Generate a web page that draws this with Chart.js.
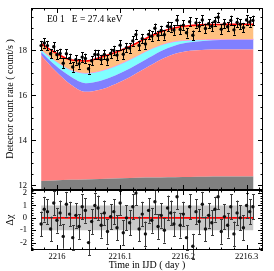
<!DOCTYPE html>
<html>
<head>
<meta charset="utf-8">
<script src="https://cdn.jsdelivr.net/npm/chart.js@4.4.1/dist/chart.umd.min.js"></script>
<style>
  body { margin: 0; background: #fff; overflow: hidden; }
  #wrap { position: relative; width: 274px; height: 271px; }
  canvas { position: absolute; left: 0; }
  #top { top: 0; }
  #res { top: 189px; }
</style>
</head>
<body>
<div id="wrap">
  <canvas id="top" width="274" height="191"></canvas>
  <canvas id="res" width="274" height="82"></canvas>
</div>
<script>
    // observed light curve (time in IJD, rate in count/s)
    const times = [2215.975, 2215.980, 2215.985, 2215.990, 2215.995, 2216.000, 2216.005, 2216.010, 2216.015, 2216.020,
        2216.025, 2216.030, 2216.035, 2216.040, 2216.045, 2216.050, 2216.055, 2216.060, 2216.065, 2216.070,
        2216.075, 2216.080, 2216.085, 2216.090, 2216.095, 2216.100, 2216.105, 2216.110, 2216.115, 2216.120,
        2216.125, 2216.130, 2216.135, 2216.140, 2216.145, 2216.150, 2216.155, 2216.160, 2216.165, 2216.170,
        2216.175, 2216.180, 2216.185, 2216.190, 2216.195, 2216.200, 2216.205, 2216.210, 2216.215, 2216.220,
        2216.225, 2216.230, 2216.235, 2216.240, 2216.245, 2216.250, 2216.255, 2216.260, 2216.265, 2216.270,
        2216.275, 2216.280, 2216.285, 2216.290, 2216.295, 2216.300, 2216.305, 2216.310];
    const rateObs = [18.21, 18.33, 18.21, 17.85, 18.16, 17.81, 17.86, 17.43, 17.85, 17.64,
        17.26, 17.58, 17.40, 17.70, 17.64, 17.18, 17.54, 17.82, 17.81, 17.59,
        17.82, 17.58, 17.86, 17.99, 17.79, 18.23, 17.83, 18.12, 18.10, 18.42,
        18.70, 18.22, 18.52, 18.28, 18.71, 18.63, 18.98, 18.66, 18.88, 18.69,
        19.07, 19.04, 18.90, 19.34, 18.93, 19.12, 18.78, 19.27, 18.67, 19.22,
        19.07, 19.35, 18.97, 19.18, 19.07, 19.28, 19.47, 18.94, 19.18, 19.05,
        19.33, 18.91, 19.24, 19.16, 19.01, 19.35, 19.26, 19.33];
    const rateErr = 0.21;
    const resid = [-0.5, 0.7, 0.5, -0.9, 1.2, -0.2, 0.4, -1.5, 1.1, 0.3,
        -1.6, 0.2, -0.7, 0.9, 0.6, -2.0, -0.3, 1.0, 0.8, -0.6,
        0.4, -1.1, 0.1, 0.5, -0.8, 1.2, -1.2, 0.0, -0.4, 0.9,
        2.0, -0.9, 0.3, -1.3, 0.6, -0.2, 1.3, -0.7, 0.2, -1.0,
        0.8, 0.4, -0.5, 1.7, -0.6, 0.3, -1.6, 0.9, -2.3, 0.5,
        -0.3, 1.1, -0.9, 0.2, -0.4, 0.7, 1.7, -1.1, 0.1, -0.6,
        0.9, -1.3, 0.4, 0.0, -0.8, 1.0, 0.5, 0.9];

    // model components, cumulative tops
    const modelTimes = [2215.975, 2215.997, 2216.021, 2216.046, 2216.068, 2216.092, 2216.116, 2216.140,
        2216.164, 2216.187, 2216.211, 2216.235, 2216.259, 2216.283, 2216.311];
    const bgTop = [12.20, 12.22, 12.25, 12.27, 12.29, 12.31, 12.33, 12.35, 12.36, 12.37, 12.38, 12.39, 12.40, 12.40, 12.40];
    const pinkTop = [17.78, 17.10, 16.50, 16.16, 16.25, 16.50, 16.82, 17.20, 17.58, 17.85, 17.98, 18.03, 18.04, 18.04, 18.04];
    const blueTop = [17.93, 17.35, 16.85, 16.54, 16.64, 16.88, 17.20, 17.58, 17.96, 18.22, 18.36, 18.43, 18.46, 18.47, 18.47];
    const cyanTop = [18.03, 17.55, 17.15, 16.99, 17.08, 17.30, 17.60, 17.95, 18.24, 18.40, 18.46, 18.48, 18.49, 18.49, 18.49];
    const totalModel = [18.30, 17.90, 17.58, 17.53, 17.68, 17.90, 18.18, 18.52, 18.82, 19.00, 19.10, 19.14, 19.15, 19.16, 19.16];

    const bandLow = [-1, -1];
    const bandHigh = [1, 1];
    const zeroLine = [0, 0];
    const bandTimes = [2215.975, 2216.311];

    const xTicks = [2216, 2216.1, 2216.2, 2216.3];
    const rateTicks = [12, 14, 16, 18];
    const residTicks = [-2, -1, 0, 1, 2];

    const xMin = 2215.959, xMax = 2216.326;
    const fontFam = "'Liberation Serif', serif";

    function pts(xs, ys) {
        return xs.map((x, i) => ({ x: x, y: ys[i] }));
    }

    function area(data, color, fill, border, bw) {
        return {
            type: 'line', data: data, fill: fill, backgroundColor: color,
            borderColor: border || 'rgba(0,0,0,0)', borderWidth: bw || 0,
            pointRadius: 0, cubicInterpolationMode: 'monotone', order: 5
        };
    }

    // frame + inward ticks, PGPLOT style
    const frameTicks = {
        id: 'frameTicks',
        afterDraw(chart, args, o) {
            const { ctx, chartArea: a, scales } = chart;
            const sx = scales.x, sy = scales.y;
            ctx.save();
            ctx.strokeStyle = '#000';
            ctx.lineWidth = 1;
            ctx.beginPath();
            const k0 = Math.ceil(sx.min / o.xMinor - 1e-6), k1 = Math.floor(sx.max / o.xMinor + 1e-6);
            for (let k = k0; k <= k1; k++) {
                const px = Math.round(sx.getPixelForValue(k * o.xMinor)) + 0.5;
                const len = (k % o.xEvery === 0) ? 5 : 2.5;
                ctx.moveTo(px, a.bottom); ctx.lineTo(px, a.bottom - len);
                ctx.moveTo(px, a.top); ctx.lineTo(px, a.top + len);
            }
            const j0 = Math.ceil(sy.min / o.yMinor - 1e-6), j1 = Math.floor(sy.max / o.yMinor + 1e-6);
            for (let j = j0; j <= j1; j++) {
                const py = Math.round(sy.getPixelForValue(j * o.yMinor)) + 0.5;
                const len = (j % o.yEvery === 0) ? 5 : 2.5;
                ctx.moveTo(a.left, py); ctx.lineTo(a.left + len, py);
                ctx.moveTo(a.right, py); ctx.lineTo(a.right - len, py);
            }
            ctx.stroke();
            ctx.strokeRect(Math.round(a.left) + 0.5, Math.round(a.top) + 0.5,
                Math.round(a.width) - 1, Math.round(a.height) - 1);
            if (o.label) {
                ctx.fillStyle = '#000';
                ctx.font = "9.5px " + fontFam;
                ctx.textBaseline = 'middle';
                ctx.fillText(o.label, a.left + 16, 19);
            }
            ctx.restore();
        }
    };

    // vertical error bars with small caps
    const errorBars = {
        id: 'errorBars',
        afterDatasetsDraw(chart, args, o) {
            const { ctx, scales } = chart;
            const meta = chart.getDatasetMeta(o.index);
            const ds = chart.data.datasets[o.index];
            ctx.save();
            ctx.strokeStyle = o.color;
            ctx.lineWidth = 1;
            ctx.beginPath();
            ds.data.forEach((p, i) => {
                const px = Math.round(scales.x.getPixelForValue(p.x)) + 0.5;
                const y1 = scales.y.getPixelForValue(p.y - o.err);
                const y2 = scales.y.getPixelForValue(p.y + o.err);
                ctx.moveTo(px, y1); ctx.lineTo(px, y2);
                ctx.moveTo(px - 1.5, Math.round(y1) + 0.5); ctx.lineTo(px + 1.5, Math.round(y1) + 0.5);
                ctx.moveTo(px - 1.5, Math.round(y2) + 0.5); ctx.lineTo(px + 1.5, Math.round(y2) + 0.5);
            });
            ctx.stroke();
            ctx.fillStyle = o.pointColor;
            meta.data.forEach(el => {
                ctx.beginPath();
                ctx.arc(el.x, el.y, 1.7, 0, Math.PI * 2);
                ctx.fill();
            });
            ctx.restore();
        }
    };

    const yFit = w => s => { s.width = w; s.paddingTop = 0; s.paddingBottom = 0; };

    new Chart(document.getElementById('top'), {
        type: 'line',
        data: {
            datasets: [
                area(pts(modelTimes, bgTop), '#808080', 'start'),
                area(pts(modelTimes, pinkTop), '#FF8080', '-1'),
                area(pts(modelTimes, blueTop), '#8080FF', '-1'),
                area(pts(modelTimes, cyanTop), '#80FFFF', '-1', '#FF80FF', 1),
                Object.assign(area(pts(modelTimes, totalModel), '#FFC080', '-1', '#FF0000', 1.6), { order: 2 }),
                { type: 'scatter', data: pts(times, rateObs), pointRadius: 0, order: 1 }
            ]
        },
        options: {
            responsive: false,
            animation: false,
            layout: { padding: { left: 0, right: 11, top: 8, bottom: 1 } },
            plugins: {
                legend: { display: false },
                tooltip: { enabled: false },
                frameTicks: { xMinor: 0.02, xEvery: 5, yMinor: 0.5, yEvery: 4, label: 'E0 1   E = 27.4 keV' },
                errorBars: { index: 5, err: rateErr, color: '#000', pointColor: '#000' }
            },
            scales: {
                x: { type: 'linear', min: xMin, max: xMax, display: false },
                y: {
                    min: 11.8, max: 19.88,
                    grid: { display: false, drawTicks: false },
                    border: { display: false },
                    afterFit: yFit(31),
                    afterBuildTicks: s => { s.ticks = rateTicks.map(v => ({ value: v })); },
                    ticks: { padding: 4, color: '#000', font: { family: fontFam, size: 8.5 } },
                    title: {
                        display: true, text: 'Detector count rate ( count/s )', color: '#000',
                        font: { family: fontFam, size: 10 }, padding: { top: 4, bottom: 0 }
                    }
                }
            }
        },
        plugins: [frameTicks, errorBars]
    });

    new Chart(document.getElementById('res'), {
        type: 'line',
        data: {
            datasets: [
                area(pts(bandTimes, bandLow), 'rgba(0,0,0,0)', false),
                area(pts(bandTimes, bandHigh), '#C8C8C8', '-1'),
                Object.assign(area(pts(bandTimes, zeroLine), 'rgba(0,0,0,0)', false, '#FF0000', 1.6), { order: 2 }),
                { type: 'scatter', data: pts(times, resid), pointRadius: 0, order: 1 }
            ]
        },
        options: {
            responsive: false,
            animation: false,
            layout: { padding: { left: 0, right: 11, top: 1, bottom: 0 } },
            plugins: {
                legend: { display: false },
                tooltip: { enabled: false },
                frameTicks: { xMinor: 0.02, xEvery: 5, yMinor: 0.2, yEvery: 5 },
                errorBars: { index: 3, err: 1, color: '#3a3a3a', pointColor: '#111' }
            },
            scales: {
                x: {
                    type: 'linear', min: xMin, max: xMax,
                    grid: { display: false, drawTicks: false },
                    border: { display: false },
                    afterFit: s => { s.height = 21; s.paddingLeft = 0; s.paddingRight = 0; },
                    afterBuildTicks: s => { s.ticks = xTicks.map(v => ({ value: v })); },
                    ticks: {
                        padding: 2, color: '#000', maxRotation: 0, autoSkip: false,
                        font: { family: fontFam, size: 8.5 },
                        callback: v => String(Math.round(v * 10) / 10)
                    },
                    title: {
                        display: true, text: 'Time in IJD ( day )', color: '#000',
                        font: { family: fontFam, size: 10 }, padding: { top: 0, bottom: 0 }
                    }
                },
                y: {
                    min: -2.6, max: 2.25,
                    grid: { display: false, drawTicks: false },
                    border: { display: false },
                    afterFit: yFit(31),
                    afterBuildTicks: s => { s.ticks = residTicks.map(v => ({ value: v })); },
                    ticks: { padding: 4, color: '#000', font: { family: fontFam, size: 8.5 } },
                    title: {
                        display: true, text: 'Δχ', color: '#000',
                        font: { family: fontFam, size: 10 }, padding: { top: 4, bottom: 0 }
                    }
                }
            }
        },
        plugins: [frameTicks, errorBars]
    });
</script>
</body>
</html>
